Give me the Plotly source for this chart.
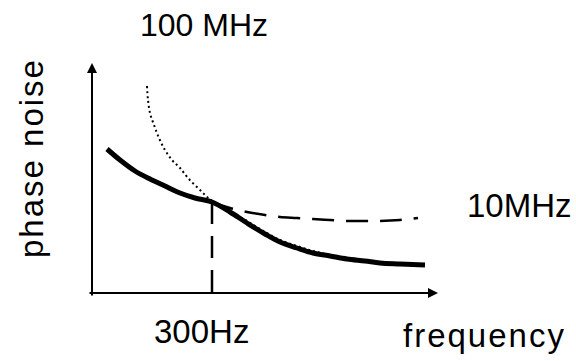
import plotly.graph_objects as go

# Coordinates are in arbitrary units measured from the axis origin
solid_x = [15, 28, 43, 58, 73, 88, 103, 120, 138, 155, 173, 188, 205, 221, 238, 255, 273, 288, 308, 333]
solid_y = [144, 133, 122, 114, 107, 100, 95, 91, 81, 70, 59, 51, 45, 40, 37, 34, 32, 30, 29, 28]

dotted_x = [55, 56, 58, 62, 67, 73, 80, 88, 96, 108, 120, 138, 155, 173, 188, 205, 221, 238, 255]
dotted_y = [207, 193, 180, 168, 155, 143, 133, 125, 115, 103, 92, 82, 72, 61, 53, 47, 42, 38, 35]

dashed_x = [120, 138, 155, 173, 188, 205, 221, 238, 255, 273, 288, 308, 326]
dashed_y = [91, 85, 81, 78, 76, 75, 74, 73, 72, 72, 72, 73, 75]

corner_x = [120, 120]
corner_y = [91, 0]

axis_x_end = 346
axis_y_end = 230

FONT = "Liberation Sans, Arial, sans-serif"

fig = go.Figure()
fig.add_trace(go.Scatter(x=dotted_x, y=dotted_y, mode="lines",
                         line=dict(color="black", width=2, dash="2px,3px", shape="spline"),
                         hoverinfo="skip"))
fig.add_trace(go.Scatter(x=dashed_x, y=dashed_y, mode="lines",
                         line=dict(color="black", width=2.5, dash="22px,12px", shape="spline"),
                         hoverinfo="skip"))
fig.add_trace(go.Scatter(x=corner_x, y=corner_y, mode="lines",
                         line=dict(color="black", width=2.5, dash="22px,12px"),
                         hoverinfo="skip"))
fig.add_trace(go.Scatter(x=solid_x, y=solid_y, mode="lines",
                         line=dict(color="black", width=5, shape="spline"),
                         hoverinfo="skip"))

# axes with arrows
fig.add_annotation(x=0, y=axis_y_end, ax=0, ay=-4, xref="x", yref="y", axref="x", ayref="y",
                   showarrow=True, arrowhead=2, arrowsize=1, arrowwidth=2, arrowcolor="black", text="")
fig.add_annotation(x=axis_x_end, y=0, ax=-4, ay=0, xref="x", yref="y", axref="x", ayref="y",
                   showarrow=True, arrowhead=2, arrowsize=1, arrowwidth=2, arrowcolor="black", text="")

def label(text, x, y, size=32, **kw):
    fig.add_annotation(x=x, y=y, xref="x", yref="y", text=text, showarrow=False,
                       font=dict(family=FONT, size=size, color="black"), **kw)

label("100 MHz", 112, 268)
label("10MHz", 427, 88, size=33)
label("300Hz", 109, -38, size=33)
label('<span style="letter-spacing:2px">frequency</span>', 392, -42, size=33)
label('<span style="letter-spacing:2px">phase noise</span>', -61, 135, size=33, textangle=-90)

fig.update_layout(
    width=576, height=361,
    margin=dict(l=0, r=0, t=0, b=0),
    paper_bgcolor="white", plot_bgcolor="white",
    showlegend=False,
    xaxis=dict(range=[-92, 484], visible=False, fixedrange=True),
    yaxis=dict(range=[-68, 293], visible=False, fixedrange=True),
)

fig.write_html("out.html")
